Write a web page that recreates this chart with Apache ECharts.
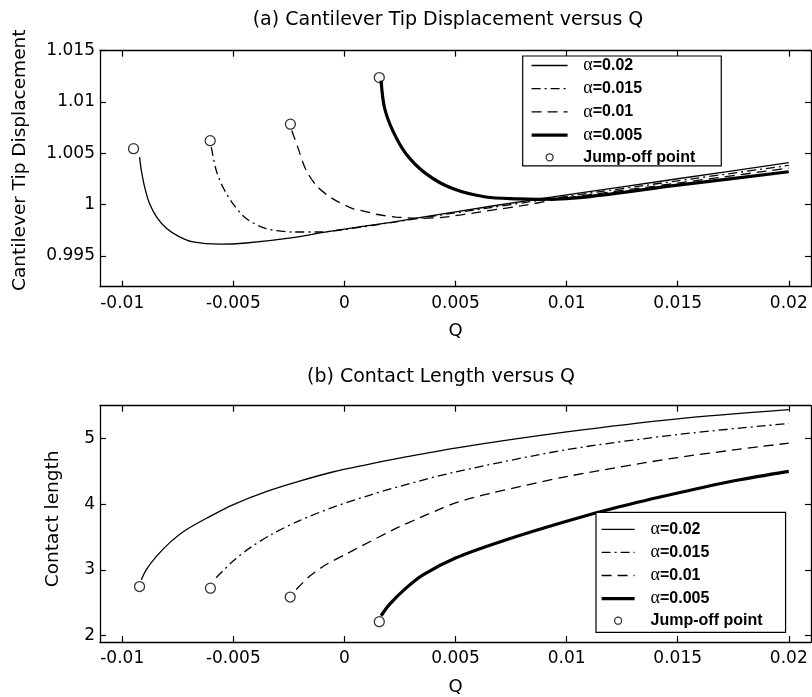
<!DOCTYPE html>
<html>
<head>
<meta charset="utf-8">
<script src="https://cdn.jsdelivr.net/npm/echarts@6/dist/echarts.min.js"></script>
<style>html,body{margin:0;padding:0;background:#fff}#c{width:812px;height:697px}</style>
</head>
<body>
<div id="c"></div>
<script>
// ---------- data ----------
const seriesNames = ['α=0.02', 'α=0.015', 'α=0.01', 'α=0.005'];
const jumpName = 'Jump-off point';
const xTicks = [-0.01, -0.005, 0, 0.005, 0.01, 0.015, 0.02];
const yTicksA = [0.995, 1, 1.005, 1.01, 1.015];
const yTicksB = [2, 3, 4, 5];

// (a) tip displacement
const qA1 = [-0.00922,-0.00914,-0.00899,-0.00877,-0.00845,-0.00800,-0.00742,-0.00682,-0.00562,-0.00442,-0.00232,-0.00067,0.00217,0.005,0.00832,0.01,0.015,0.02];
const dA1 = [1.00463,1.00334,1.00171,1.00010,0.99879,0.99767,0.99685,0.99636,0.99614,0.99626,0.99679,0.99740,0.99830,0.99930,1.00042,1.00095,1.00252,1.00409];
const qA2 = [-0.00599,-0.00577,-0.00547,-0.00502,-0.00442,-0.00352,-0.00232,-0.00112,-0.00008,0.0025,0.005,0.01,0.015,0.02];
const dA2 = [1.00560,1.00334,1.00171,1.00010,0.99864,0.99767,0.99733,0.99733,0.99755,0.99838,0.99920,1.00080,1.00232,1.00382];
const qA3 = [-0.00237,-0.00210,-0.00172,-0.00120,-0.00053,0.00037,0.00082,0.00143,0.00232,0.00337,0.0045,0.006,0.008,0.01,0.015,0.02];
const dA3 = [1.00723,1.00560,1.00334,1.00171,1.00058,0.99961,0.99940,0.99906,0.99879,0.99866,0.99878,0.99925,0.99990,1.00065,1.00210,1.00356];
const qA4 = [0.00165,0.00180,0.00217,0.00277,0.00367,0.00487,0.00637,0.00787,0.00862,0.01,0.015,0.02];
const dA4 = [1.01209,1.00949,1.00723,1.00496,1.00302,1.00156,1.00074,1.00056,1.00052,1.00058,1.00190,1.00320];
const qAj = [-0.00949,-0.00604,-0.00243,0.00157];
const dAj = [1.00545,1.00623,1.00784,1.01238];

// (b) contact length
const qB1 = [-0.00914,-0.00892,-0.00847,-0.00787,-0.00712,-0.00607,-0.00502,-0.00352,-0.00202,-0.00053,0.00098,0.00247,0.005,0.01,0.015,0.02];
const lB1 = [2.85,3.00,3.20,3.41,3.61,3.81,3.99,4.19,4.35,4.49,4.60,4.70,4.855,5.10,5.30,5.44];
const qB2 = [-0.00577,-0.00502,-0.00427,-0.00322,-0.00202,-0.00053,0.00098,0.00247,0.005,0.01,0.015,0.02];
const lB2 = [2.88,3.13,3.33,3.55,3.75,3.95,4.12,4.27,4.49,4.83,5.06,5.23];
const qB3 = [-0.00217,-0.00157,-0.00082,0.00008,0.00075,0.00232,0.00337,0.00427,0.005,0.00652,0.01,0.015,0.02];
const lB3 = [2.70,2.90,3.08,3.24,3.36,3.63,3.79,3.92,4.02,4.16,4.42,4.71,4.93];
const qB4 = [0.00165,0.00202,0.00277,0.00352,0.005,0.00712,0.01,0.01237,0.015,0.01761,0.02];
const lB4 = [2.30,2.47,2.72,2.92,3.18,3.44,3.74,3.96,4.17,4.36,4.50];
const qBj = [-0.00922,-0.00603,-0.00244,0.00157];
const lBj = [2.745,2.72,2.585,2.21];

// ---------- styling / layout ----------
const F = 'DejaVu Sans';
const xMin = -0.011, xMax = 0.021;
const lineStyles = [
  {width: 1.3, type: 'solid'},
  {width: 1.3, type: [9, 4, 2, 4]},
  {width: 1.3, type: [10, 6]},
  {width: 3.2, type: 'solid'}
];
const zip = (a, b) => a.map((v, i) => [v, b[i]]);
const fmt = v => String(+(+v).toFixed(6));

function xAxisCfg(g, pos, labels, name) {
  return {
    type: 'value', gridIndex: g, position: pos, min: xMin, max: xMax,
    name: name || '', nameLocation: 'middle', nameGap: 36,
    nameTextStyle: {fontFamily: F, fontSize: 18, color: '#000'},
    axisLine: {show: true, onZero: false, lineStyle: {color: '#000', width: 1.3}},
    axisTick: {show: true, inside: true, length: 6, customValues: xTicks, lineStyle: {color: '#000', width: 1.2}},
    axisLabel: {show: labels, customValues: xTicks, margin: 8, formatter: fmt, fontFamily: F, fontSize: 17, color: '#000'},
    splitLine: {show: false}
  };
}
function yAxisCfg(g, pos, labels, min, max, ticks, name, gap, shift) {
  return {
    type: 'value', gridIndex: g, position: pos, min: min, max: max,
    name: name || '', nameLocation: 'middle', nameGap: gap || 0,
    nameTextStyle: {fontFamily: F, fontSize: 18.5, color: '#000', padding: [0, 0, 0, shift || 0]},
    axisLine: {show: true, onZero: false, lineStyle: {color: '#000', width: 1.3}},
    axisTick: {show: true, inside: true, length: 6, customValues: ticks, lineStyle: {color: '#000', width: 1.2}},
    axisLabel: {show: labels, customValues: ticks, margin: 5, formatter: fmt, fontFamily: F, fontSize: 17, color: '#000'},
    splitLine: {show: false}
  };
}
const hiddenMarker = {color: 'rgba(0,0,0,0)', borderColor: 'rgba(0,0,0,0)', borderWidth: 0};
function legendCfg(left, top, iconW, pad, gap, textPad) {
  return {
    orient: 'vertical', left: left, top: top, itemWidth: iconW, itemHeight: 7, itemGap: gap,
    padding: pad, backgroundColor: '#fff', borderColor: '#000', borderWidth: 1.2, borderRadius: 0,
    selectedMode: false,
    data: seriesNames.map(n => ({name: n, itemStyle: hiddenMarker})).concat([{name: jumpName}]),
    lineStyle: {width: 'inherit', type: 'inherit', color: 'inherit'},
    itemStyle: {borderWidth: 'inherit', borderColor: 'inherit', color: 'inherit'},
    formatter: n => n.charAt(0) === 'α' ? '{a|α}{b|' + n.slice(1) + '}' : '{c|' + n + '}',
    textStyle: {
      color: '#000', lineHeight: 16,
      rich: {
        a: {fontFamily: 'Liberation Serif', fontSize: 18, color: '#000', lineHeight: 16, padding: [0, 0, 0, textPad]},
        b: {fontFamily: 'Liberation Sans', fontWeight: 'bold', fontSize: 16, color: '#000', lineHeight: 16},
        c: {fontFamily: 'Liberation Sans', fontWeight: 'bold', fontSize: 16, color: '#000', lineHeight: 16, padding: [0, 0, 0, textPad]}
      }
    }
  };
}

const topData = [zip(qA1, dA1), zip(qA2, dA2), zip(qA3, dA3), zip(qA4, dA4)];
const botData = [zip(qB1, lB1), zip(qB2, lB2), zip(qB3, lB3), zip(qB4, lB4)];

const series = [];
[topData, botData].forEach((set, gi) => {
  set.forEach((d, i) => {
    series.push({
      type: 'line', name: seriesNames[i], xAxisIndex: gi * 2, yAxisIndex: gi * 2,
      data: d, symbol: 'none', showSymbol: false, smooth: 0.3,
      lineStyle: Object.assign({color: '#000'}, lineStyles[i]), itemStyle: {color: '#000'},
      silent: true, z: 2
    });
  });
  series.push({
    type: 'scatter', name: jumpName, xAxisIndex: gi * 2, yAxisIndex: gi * 2,
    data: gi === 0 ? zip(qAj, dAj) : zip(qBj, lBj),
    symbol: 'circle', symbolSize: 10,
    itemStyle: {color: 'rgba(255,255,255,0)', borderColor: '#000', borderWidth: 1.3},
    silent: true, z: 3
  });
});

const option = {
  animation: false,
  backgroundColor: '#fff',
  title: [
    {text: '(a) Cantilever Tip Displacement versus Q', left: 443, top: 6, textAlign: 'center',
     textStyle: {fontFamily: F, fontSize: 19, fontWeight: 'normal', color: '#000'}},
    {text: '(b) Contact Length versus Q', left: 436, top: 363, textAlign: 'center',
     textStyle: {fontFamily: F, fontSize: 19, fontWeight: 'normal', color: '#000'}}
  ],
  grid: [
    {left: 100, right: 1, top: 50.7, height: 236},
    {left: 100, right: 1, top: 405.7, height: 236.3}
  ],
  xAxis: [
    xAxisCfg(0, 'bottom', true, 'Q'),
    xAxisCfg(0, 'top', false, ''),
    xAxisCfg(1, 'bottom', true, 'Q'),
    xAxisCfg(1, 'top', false, '')
  ],
  yAxis: [
    yAxisCfg(0, 'left', true, 0.992, 1.015, yTicksA, 'Cantilever Tip Displacement', 70, 17),
    yAxisCfg(0, 'right', false, 0.992, 1.015, yTicksA),
    yAxisCfg(1, 'left', true, 1.9, 5.5, yTicksB, 'Contact length', 37, 10),
    yAxisCfg(1, 'right', false, 1.9, 5.5, yTicksB)
  ],
  legend: [
    legendCfg(522.7, 56, 36, [0.5, 26, 0.5, 7.3], 5.2, 10.7),
    legendCfg(596, 512.3, 33, [8, 23, 3.6, 4], 5.1, 11)
  ],
  series: series
};

const chart = echarts.init(document.getElementById('c'), null, {renderer: 'canvas'});
chart.setOption(option);
</script>
</body>
</html>
